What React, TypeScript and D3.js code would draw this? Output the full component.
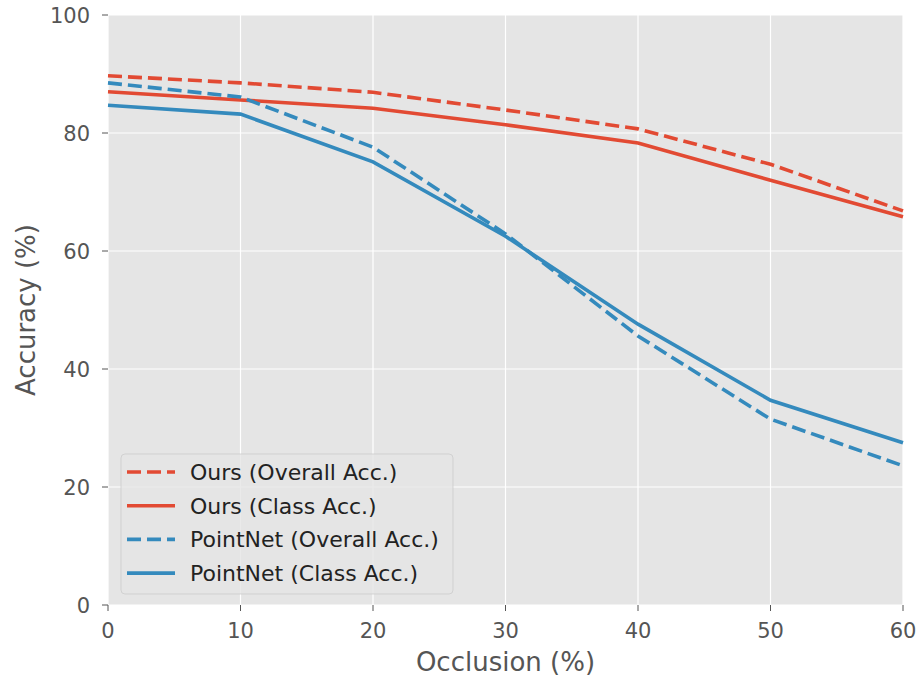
import { useEffect, useRef } from "react";
import * as d3 from "d3";

const occlusion = [0, 10, 20, 30, 40, 50, 60];
const oursOverall = [89.7, 88.5, 86.9, 83.9, 80.7, 74.7, 66.8];
const oursClass = [87.0, 85.6, 84.2, 81.4, 78.3, 72.0, 65.8];
const pointnetOverall = [88.5, 86.1, 77.6, 62.9, 45.6, 31.5, 23.6];
const pointnetClass = [84.7, 83.2, 75.1, 62.5, 47.6, 34.7, 27.5];
const xTicks = [0, 10, 20, 30, 40, 50, 60];
const yTicks = [0, 20, 40, 60, 80, 100];

const RED = "#E24A33";
const BLUE = "#348ABD";

const series = [
  { name: "Ours (Overall Acc.)", values: oursOverall, color: RED, dashed: true },
  { name: "Ours (Class Acc.)", values: oursClass, color: RED, dashed: false },
  { name: "PointNet (Overall Acc.)", values: pointnetOverall, color: BLUE, dashed: true },
  { name: "PointNet (Class Acc.)", values: pointnetClass, color: BLUE, dashed: false },
];

const App = () => {
  const ref = useRef(null);
  const width = 917;
  const height = 682;
  const margin = { left: 108, right: 14, top: 15, bottom: 77 };

  useEffect(() => {
    const svg = d3.select(ref.current);
    svg.selectAll("*").remove();

    const x = d3.scaleLinear().domain([0, 60]).range([margin.left, width - margin.right]);
    const y = d3.scaleLinear().domain([0, 100]).range([height - margin.bottom, margin.top]);
    const font = "DejaVu Sans, sans-serif";

    // background
    svg
      .append("rect")
      .attr("x", x(0))
      .attr("y", y(100))
      .attr("width", x(60) - x(0))
      .attr("height", y(0) - y(100))
      .attr("fill", "#E5E5E5");

    // grid
    const grid = svg.append("g").attr("stroke", "#ffffff").attr("stroke-width", 1.2);
    xTicks.forEach((t) =>
      grid.append("line").attr("x1", x(t)).attr("x2", x(t)).attr("y1", y(0)).attr("y2", y(100))
    );
    yTicks.forEach((t) =>
      grid.append("line").attr("x1", x(0)).attr("x2", x(60)).attr("y1", y(t)).attr("y2", y(t))
    );

    // ticks
    const ticks = svg.append("g").attr("fill", "#555555").style("font-family", font).style("font-size", "21px");
    xTicks.forEach((t) => {
      ticks.append("line").attr("x1", x(t)).attr("x2", x(t)).attr("y1", y(0)).attr("y2", y(0) + 6).attr("stroke", "#555555").attr("stroke-width", 1);
      ticks.append("text").attr("x", x(t)).attr("y", y(0) + 33).attr("text-anchor", "middle").text(t);
    });
    yTicks.forEach((t) => {
      ticks.append("line").attr("x1", x(0) - 6).attr("x2", x(0)).attr("y1", y(t)).attr("y2", y(t)).attr("stroke", "#555555").attr("stroke-width", 1);
      ticks.append("text").attr("x", x(0) - 18).attr("y", y(t)).attr("dy", "0.36em").attr("text-anchor", "end").text(t);
    });

    // axis labels
    svg
      .append("text")
      .attr("x", (x(0) + x(60)) / 2)
      .attr("y", 671)
      .attr("text-anchor", "middle")
      .attr("fill", "#555555")
      .style("font-family", font)
      .style("font-size", "26px")
      .text("Occlusion (%)");
    svg
      .append("text")
      .attr("transform", `translate(35, ${(y(0) + y(100)) / 2}) rotate(-90)`)
      .attr("text-anchor", "middle")
      .attr("fill", "#555555")
      .style("font-family", font)
      .style("font-size", "26px")
      .text("Accuracy (%)");

    // lines
    const line = d3
      .line<number>()
      .x((d, i) => x(occlusion[i]))
      .y((d) => y(d));

    const plot = svg.append("g");
    series.forEach((s) => {
      plot
        .append("path")
        .attr("d", line(s.values))
        .attr("fill", "none")
        .attr("stroke", s.color)
        .attr("stroke-width", 3.6)
        .attr("stroke-dasharray", s.dashed ? "14,6" : null);
    });

    // legend
    const lg = svg.append("g");
    lg.append("rect")
      .attr("x", 121)
      .attr("y", 454)
      .attr("width", 332)
      .attr("height", 140)
      .attr("rx", 4)
      .attr("fill", "#E5E5E5")
      .attr("fill-opacity", 0.8)
      .attr("stroke", "#cccccc")
      .attr("stroke-opacity", 0.8);
    series.forEach((s, i) => {
      const cy = 472 + i * 33.7;
      lg.append("line")
        .attr("x1", 127)
        .attr("x2", 175)
        .attr("y1", cy)
        .attr("y2", cy)
        .attr("stroke", s.color)
        .attr("stroke-width", 3.6)
        .attr("stroke-dasharray", s.dashed ? "14,6" : null);
      lg.append("text")
        .attr("x", 190)
        .attr("y", cy)
        .attr("dy", "0.36em")
        .attr("fill", "#222222")
        .style("font-family", font)
        .style("font-size", "22px")
        .text(s.name);
    });
  }, []);

  return (
    <div>
      <svg ref={ref} width={width} height={height} style={{ position: "absolute", left: 0, top: 0 }}></svg>
    </div>
  );
};

export default App;
